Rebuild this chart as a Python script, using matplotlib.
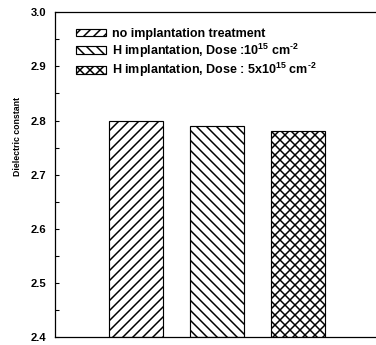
import numpy as np
import matplotlib
matplotlib.use('Agg')
import matplotlib.pyplot as plt
from matplotlib.ticker import MultipleLocator

# --- data ---
labels = ['no implantation treatment',
          'H implantation, Dose :10$^{15}$ cm$^{\u20102}$',
          'H implantation, Dose : 5x10$^{15}$ cm$^{\u20102}$']
values = [2.80, 2.79, 2.78]
hatches = ['//', '\\\\', 'xx']
positions = [1, 2, 3]
yticks = [2.4, 2.5, 2.6, 2.7, 2.8, 2.9, 3.0]

plt.rcParams['font.family'] = 'Liberation Sans'
plt.rcParams['font.weight'] = 'bold'
plt.rcParams['mathtext.fontset'] = 'custom'
plt.rcParams['mathtext.rm'] = 'Liberation Sans:bold'
plt.rcParams['mathtext.bf'] = 'Liberation Sans:bold'
plt.rcParams['mathtext.default'] = 'bf'
plt.rcParams['hatch.linewidth'] = 1.8

DPI = 60
fig = plt.figure(figsize=(376 / DPI, 345 / DPI), dpi=DPI)
ax = fig.add_axes([55 / 376, 8 / 345, 324 / 376, 324.7 / 345])

for x, v, h, lab in zip(positions, values, hatches, labels):
    ax.bar(x, v - 2.4, bottom=2.4, width=0.667, facecolor='white',
           edgecolor='black', linewidth=1.4, hatch=h, label=lab)

ax.set_xlim(0, 4)
ax.set_ylim(2.4, 3.0)
ax.set_xticks([])
ax.yaxis.set_minor_locator(MultipleLocator(0.05))
ax.tick_params(axis='y', which='both', direction='in', length=4.8, width=1.3,
               labelsize=13.5, pad=10)
ax.set_yticks(yticks)
ax.set_yticklabels([f'{t:.1f}' for t in yticks], fontweight='bold')

for side in ['left', 'top', 'bottom', 'right']:
    ax.spines[side].set_linewidth(1.5)

ax.set_ylabel('Dielectric constant', fontsize=10.5, fontweight='bold')
ax.yaxis.set_label_coords(-0.103, 0.616)

ax.legend(loc='upper left', bbox_to_anchor=(0.065, 0.952), frameon=False,
          fontsize=15, borderpad=0, borderaxespad=0, handlelength=2.4,
          handleheight=0.55, handletextpad=0.45, labelspacing=0.12)

fig.savefig('out.png', dpi=DPI)
